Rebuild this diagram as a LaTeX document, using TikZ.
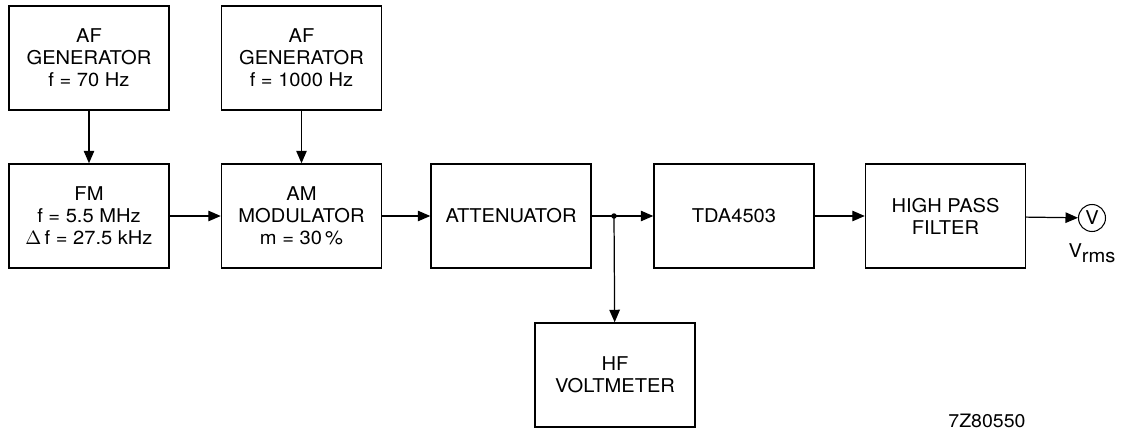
\documentclass[tikz,border=0pt]{standalone}
\usepackage{fontspec}
\setmainfont{TeX Gyre Heros}[FakeStretch=1.06]
\usetikzlibrary{arrows.meta, positioning}

\begin{document}
\begin{tikzpicture}[x=0.02cm, y=-0.02cm,
    blk/.style={draw, line width=0.85pt, minimum width=3.2cm, minimum height=2.08cm,
        align=center, inner sep=2pt},
    sig/.style={line width=0.7pt, -{Triangle[length=0.25cm, width=0.21cm]}}]
\fontsize{10.8}{12.6}\selectfont
\useasboundingbox (0,0) rectangle (1125,429);

\node[blk] (gena) at (89,58) {AF\\GENERATOR\\f = 70 Hz};
\node[blk] (genb) at (301.5,58) {AF\\GENERATOR\\f = 1000 Hz};
\node[blk] (fm) at (89,216) {FM\\f = 5.5 MHz\\$\Delta$\,f = 27.5 kHz};
\node[blk] (am) at (301.5,216) {AM\\MODULATOR\\m = 30\,\%};
\node[blk] (att) at (511,216) {ATTENUATOR};
\node[blk] (tda) at (734,216) {TDA4503};
\node[blk] (hpf) at (945.5,216) {HIGH PASS\\FILTER};
\node[blk] (hfv) at (615,375) {HF\\VOLTMETER};
\node[draw, circle, line width=0.6pt, minimum size=0.54cm, inner sep=0pt] (meter) at (1092,218) {V};
\node[below=0.22cm of meter, inner sep=0pt] (vrms) {V\raisebox{-0.55ex}{rms}};
\node[anchor=south, inner sep=0pt, font=\fontsize{10.5}{12}\selectfont] (code) at (987,428) {7Z80550};

\coordinate (junc) at (614,216);

\draw[sig] (gena) -- (fm);
\draw[sig] (genb) -- (am);
\draw[sig] (fm) -- (am);
\draw[sig] (am) -- (att);
\draw[sig] (att) -- (tda);
\fill (junc) circle (0.055cm);
\draw[sig] (junc) -- (hfv);
\draw[sig] (tda) -- (hpf);
\draw[sig] (hpf) -- (meter);
\end{tikzpicture}
\end{document}
